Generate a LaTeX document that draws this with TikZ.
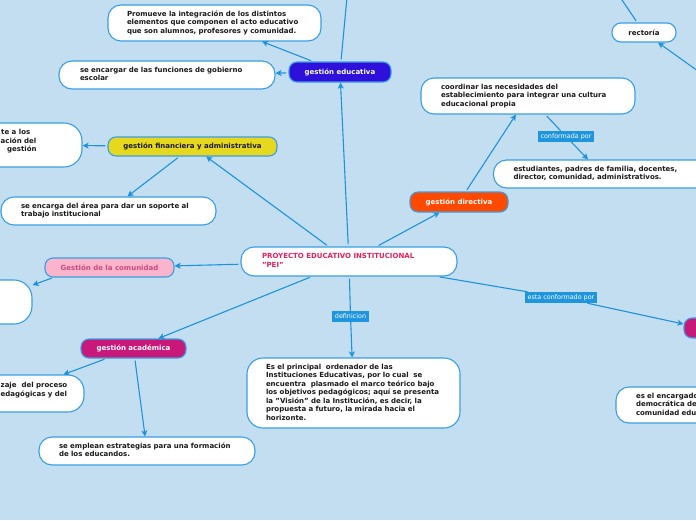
\documentclass[tikz,border=0pt]{standalone}
\usepackage{fontspec}
\setmainfont{DejaVu Sans}
\usetikzlibrary{arrows.meta}
\definecolor{bg}{HTML}{C3DEF1}
\definecolor{bdr}{HTML}{3A9FE2}
\definecolor{linec}{HTML}{1E92DC}
\definecolor{lblc}{HTML}{1E95DE}
\definecolor{educ}{HTML}{2F10DA}
\definecolor{finc}{HTML}{E6D81E}
\definecolor{comf}{HTML}{FAB4CC}
\definecolor{comt}{HTML}{CC4A7C}
\definecolor{acad}{HTML}{C8187A}
\definecolor{direc}{HTML}{FF4800}
\definecolor{peit}{HTML}{E8205A}
\newcommand{\txt}{\fontsize{7}{8.5}\selectfont\bfseries}
\newcommand{\lbltxt}{\fontsize{6.4}{7}\selectfont}
\newcommand{\ls}[1]{\begin{tabular}{@{}l@{}}#1\end{tabular}}
\tikzset{
  wbox/.style 2 args={draw=bdr, line width=1.1pt, fill=white, rounded corners=13pt,
    font=\txt, align=left, text width=#1, inner xsep=#2, inner ysep=0pt, text=black!90},
  cbox/.style={draw=bdr, line width=1.1pt, rounded corners=8pt, font=\txt,
    inner sep=0pt, align=center},
  frag/.style={font=\txt, align=left, inner sep=0pt, anchor=west, text=black!90},
  lbl/.style={fill=lblc, text=white, font=\lbltxt, inner xsep=3pt, inner ysep=0pt,
    minimum height=11pt},
  conn/.style={draw=linec, line width=1.1pt, -{Stealth[length=6pt,width=6pt,inset=1.5pt]}, shorten <=2pt},
  plain/.style={draw=linec, line width=1.1pt, shorten <=2pt}
}
\begin{document}
\begin{tikzpicture}[x=1pt,y=-1pt]
\useasboundingbox[fill=bg] (0,0) rectangle (696,520);

% central
\node[wbox={174pt}{21pt}, minimum height=29pt, text=peit] (pei) at (349,261.5)
  {\ls{PROYECTO EDUCATIVO INSTITUCIONAL\\"PEI"}};

% gestion educativa
\node[cbox, fill=educ, text=white, minimum width=102pt, minimum height=20pt] (edu) at (340,72) {gestión educativa};
\node[wbox={175pt}{19pt}, minimum height=36pt] (prom) at (214.5,23)
  {\ls{Promueve la integración de los distintos\\elementos que componen el acto educativo\\que son alumnos, profesores y comunidad.}};
\node[wbox={174pt}{21pt}, minimum height=28pt] (gob) at (167,75)
  {\ls{se encargar de las funciones de gobierno\\escolar}};
\coordinate (eduup) at (347,-3);

% financiera
\node[cbox, fill=finc, text=black!90, minimum width=169pt, minimum height=19pt] (fin) at (192.5,146.5) {gestión financiera y administrativa};
\node[draw=bdr, line width=1.1pt, fill=white, rounded corners=18pt, minimum width=142pt, minimum height=44pt, inner sep=0pt] (finl) at (11,145) {};
\node[frag] (finlt1) at (1,132) {te a los};
\node[frag] (finlt2) at (0.5,140.5) {ación del};
\node[frag] (finlt3) at (7,149) {gestión};
\node[wbox={175pt}{20pt}, minimum height=28pt] (sop) at (108.5,211)
  {\ls{se encarga del área para dar un soporte al\\trabajo institucional}};

% comunidad
\node[cbox, fill=comf, text=comt, minimum width=129pt, minimum height=19pt] (com) at (109.5,267.5) {Gestión de la comunidad};
\node[draw=bdr, line width=1.1pt, fill=white, rounded corners=18pt, minimum width=92pt, minimum height=44pt, inner sep=0pt] (coml) at (-14,302) {};

% academica
\node[cbox, fill=acad, text=white, minimum width=105pt, minimum height=19pt] (aca) at (133.5,348.5) {gestión académica};
\node[draw=bdr, line width=1.1pt, fill=white, rounded corners=16pt, minimum width=144pt, minimum height=37pt, inner sep=0pt] (acal) at (12,393.5) {};
\node[frag] (acalt1) at (0.5,385.5) {zaje\ \ del proceso};
\node[frag] (acalt2) at (0.5,394) {edagógicas y del};
\node[wbox={176pt}{20pt}, minimum height=28pt] (emp) at (147,451)
  {\ls{se emplean estrategias para una formación\\de los educandos.}};

% definicion
\node[lbl] (def) at (350.5,316.5) {definicion};
\node[wbox={175pt}{19pt}, minimum height=70pt, rounded corners=16pt] (prin) at (353.5,393)
  {\ls{Es el principal\ \ ordenador de las\\Instituciones Educativas, por lo cual\ \ se\\encuentra\ \ plasmado el marco teórico bajo\\los objetivos pedagógicos; aquí se presenta\\la "Visión" de la Institución, es decir, la\\propuesta a futuro, la mirada hacia el\\horizonte.}};

% directiva
\node[cbox, fill=direc, text=white, minimum width=98pt, minimum height=20pt] (dir) at (459,202) {gestión directiva};
\node[wbox={174pt}{20pt}, minimum height=36pt] (coo) at (528,96)
  {\ls{coordinar las necesidades del\\establecimiento para integrar una cultura\\educacional propia}};
\node[lbl] (conf) at (566,136.5) {conformada por};
\node[wbox={177pt}{20pt}, minimum height=28pt] (est) at (602,174)
  {\ls{estudiantes, padres de familia, docentes,\\director, comunidad, administrativos.}};

% rectoria
\node[wbox={40pt}{12pt}, minimum height=19pt, rounded corners=9pt, align=center] (rec) at (644,32.5) {rectoría};
\coordinate (recup) at (620,-3);
\coordinate (recin) at (700,72.5);

% right
\node[lbl] (estac) at (561,297.5) {esta conformado por};
\node[cbox, fill=acad, minimum width=36pt, minimum height=20pt] (mag) at (702,328) {};
\node[wbox={174pt}{20pt}, minimum height=36pt] (enc) at (723,405)
  {\ls{es el encargado\\democrática de\\comunidad edu}};

% connectors
\draw[plain] (edu) -- (eduup);
\draw[conn] (pei) -- (edu);
\draw[conn] (edu) -- (prom);
\draw[conn] (edu) -- (gob);
\draw[conn] (pei) -- (fin);
\draw[conn] (fin) -- (finl);
\draw[conn] (fin) -- (sop);
\draw[conn] (pei) -- (com);
\coordinate (comfrom) at (52,278);
\draw[conn, shorten <=0pt] (comfrom) -- (coml);
\draw[conn] (pei) -- (aca);
\draw[conn] (aca) -- (acal);
\draw[conn] (aca) -- (emp);
\draw[plain] (pei) -- (def);
\draw[conn, shorten <=0pt] (def) -- (prin);
\draw[conn] (pei) -- (dir);
\draw[conn] (dir) -- (coo);
\draw[plain] (coo) -- (conf);
\draw[conn, shorten <=0pt] (conf) -- (est);
\draw[plain] (rec) -- (recup);
\draw[conn] (recin) -- (rec);
\draw[plain] (pei) -- (estac);
\draw[conn, shorten <=0pt] (estac) -- (mag);
\end{tikzpicture}
\end{document}
